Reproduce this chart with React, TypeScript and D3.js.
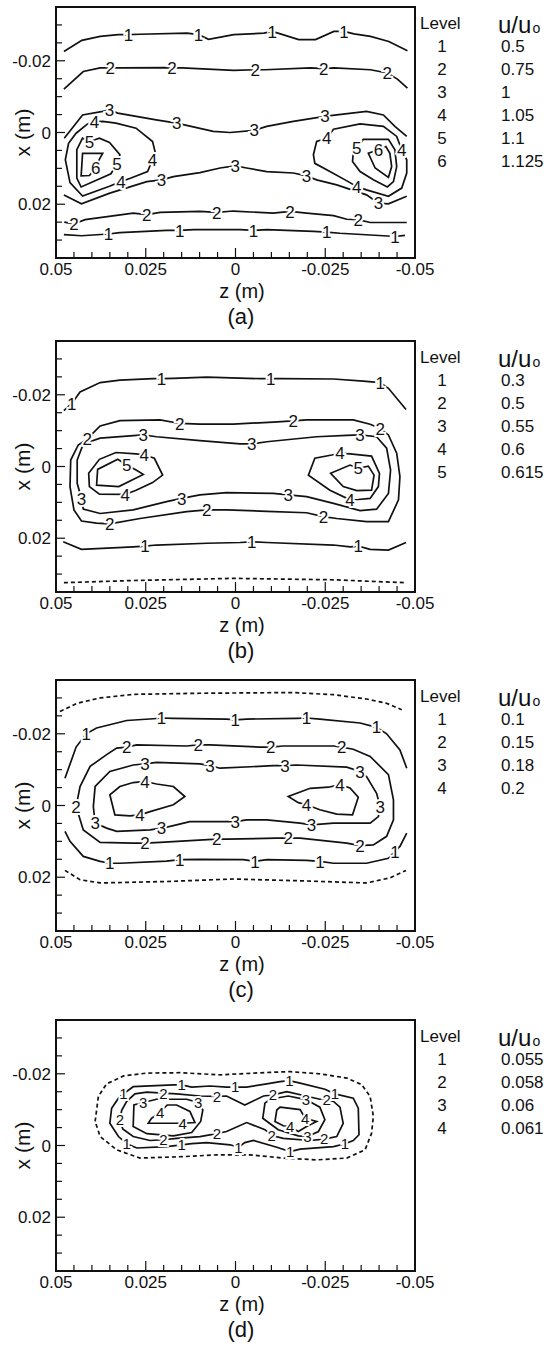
import * as d3 from "d3";

type Pt = [number, number]; // [z, x] in mm
type Contour = { level: number; dashed?: boolean; closed?: boolean; pts: Pt[] };
type Tag = [number, number, number]; // z, x (mm), level

// axis ticks (m)
const zMajor = [0.05, 0.025, 0, -0.025, -0.05];
const xMajor = [-0.02, 0, 0.02];
const zMinor = d3.range(-10, 11).map((i) => +(i * 0.005).toFixed(3));
const xMinor = d3.range(-6, 7).map((i) => +(i * 0.005).toFixed(3));

const panelTops = [7, 341, 680, 1020];
const panelNames = ["(a)", "(b)", "(c)", "(d)"];

// legend tables
const levelsA = ["1", "2", "3", "4", "5", "6"];
const valuesA = ["0.5", "0.75", "1", "1.05", "1.1", "1.125"];
const levelsB = ["1", "2", "3", "4", "5"];
const valuesB = ["0.3", "0.5", "0.55", "0.6", "0.615"];
const levelsC = ["1", "2", "3", "4"];
const valuesC = ["0.1", "0.15", "0.18", "0.2"];
const levelsD = ["1", "2", "3", "4"];
const valuesD = ["0.055", "0.058", "0.06", "0.061"];

// (a)
const contoursA: Contour[] = [
  { level: 1, pts: [[47.8, -22.6], [42.8, -25.7], [37.7, -26.8], [32.6, -27.3], [29.8, -27.3], [26.6, -27.4], [13.5, -27.7], [10.3, -27.3], [7.5, -26.0], [0.5, -27.3], [-7.9, -27.7], [-10.2, -28.2], [-12.5, -27.5], [-17.6, -25.9], [-22.3, -25.9], [-27.4, -28.2], [-30.2, -28.2], [-33.0, -27.5], [-37.6, -26.8], [-42.7, -25.4], [-47.9, -22.8]] },
  { level: 2, pts: [[47.8, -12.1], [42.4, -17.0], [37.7, -18.0], [34.9, -18.0], [32.1, -18.0], [20.0, -18.1], [17.7, -18.0], [14.9, -18.0], [0.5, -17.3], [-5.5, -17.5], [-8.3, -17.5], [-20.9, -18.0], [-24.6, -17.8], [-27.4, -18.0], [-37.6, -17.5], [-42.3, -16.6], [-45.1, -14.9], [-47.9, -12.4]] },
  { level: 3, pts: [[47.7, 1.6], [42.6, -4.9], [37.0, -5.9], [35.1, -6.3], [32.8, -5.4], [22.1, -3.5], [16.4, -2.6], [6.2, -0.3], [1.5, 0], [-5.2, -0.6], [-8.7, -1.7], [-16.1, -3.1], [-24.9, -4.5], [-28.2, -4.9], [-36.5, -5.9], [-41.2, -4.9], [-44.4, -1.7], [-47.7, 1.1]] },
  { level: 3, pts: [[47.8, 17.4], [42.9, 19.9], [35.0, 16.9], [24.7, 13.7], [20.6, 13.2], [17.3, 12.3], [9.9, 11.2], [4.3, 9.9], [0.1, 9.3], [-3.1, 9.9], [-8.7, 10.9], [-16.1, 11.3], [-19.8, 12.1], [-22.6, 13.2], [-28.2, 14.6], [-36.5, 17.4], [-39.8, 19.7], [-42.6, 19.9], [-47.7, 17.8]] },
  { level: 2, pts: [[47.7, 25.0], [45.0, 25.5], [41.9, 24.3], [28.5, 22.5], [24.7, 22.9], [21.0, 22.3], [9.9, 22.0], [5.2, 22.3], [0.6, 21.9], [-10.5, 22.5], [-15.2, 22.0], [-19.8, 22.5], [-27.3, 23.2], [-31.0, 24.2], [-34.2, 24.3], [-37.5, 25.1], [-47.7, 25.1]] },
  { level: 1, pts: [[47.8, 28.5], [42.9, 28.8], [35.4, 28.3], [32.2, 27.9], [19.2, 27.3], [15.5, 27.3], [11.7, 27.1], [-1.3, 27.1], [-5.0, 27.3], [-8.7, 27.1], [-21.7, 27.6], [-25.4, 27.8], [-29.1, 28.1], [-41.2, 28.8], [-44.4, 29.0], [-47.2, 28.7]] },
  { level: 4, closed: true, pts: [[39.3, -3.0], [37.0, -3.1], [33.3, -2.6], [27.7, -1.2], [23.1, 2.5], [22.3, 5.8], [23.1, 7.6], [24.5, 10.9], [29.1, 12.7], [31.9, 13.7], [35.1, 15.0], [42.6, 17.7], [46.1, 14.0], [47.4, 7.6], [46.5, 3.0], [44.4, 0.2], [41.2, -2.4]] },
  { level: 5, closed: true, pts: [[40.7, 2.5], [37.9, 1.6], [35.1, 2.8], [32.2, 6.2], [33.0, 8.7], [34.7, 11.5], [43.0, 15.2], [44.2, 12.7], [44.2, 4.8], [42.6, 1.6]] },
  { level: 6, closed: true, pts: [[38.9, 9.9], [40.7, 12.0], [43.0, 12.1], [42.8, 9.0], [42.6, 5.8], [37.0, 5.8], [37.9, 7.4]] },
  { level: 4, closed: true, pts: [[-25.4, 1.6], [-27.3, -0.9], [-34.7, -2.4], [-41.2, -1.7], [-44.9, 1.1], [-46.3, 4.8], [-47.7, 7.6], [-47.7, 11.3], [-46.3, 15.5], [-42.6, 17.8], [-36.5, 16.0], [-33.8, 15.1], [-31.4, 13.7], [-26.3, 10.9], [-22.1, 8.6], [-21.7, 6.2], [-22.6, 2.5]] },
  { level: 5, closed: true, pts: [[-33.8, 4.4], [-35.6, 1.9], [-42.6, 1.9], [-44.4, 4.8], [-44.9, 9.5], [-44.0, 13.7], [-42.3, 15.2], [-38.4, 13.2], [-34.7, 10.9], [-32.6, 8.1], [-32.8, 5.8]] },
  { level: 6, closed: true, pts: [[-39.8, 4.8], [-41.9, 3.9], [-43.0, 5.8], [-43.5, 9.5], [-42.6, 12.5], [-38.9, 9.9], [-37.0, 5.8]] },
];
const tagsA: Tag[] = [
  [29.8, -27.3, 1], [10.3, -27.3, 1], [-10.2, -28.2, 1], [-30.2, -28.2, 1],
  [34.9, -18.0, 2], [17.7, -18.0, 2], [-5.5, -17.5, 2], [-24.6, -17.8, 2], [-42.3, -16.6, 2],
  [35.1, -6.3, 3], [16.4, -2.6, 3], [-5.2, -0.6, 3], [-24.9, -4.5, 3],
  [20.6, 13.2, 3], [0.1, 9.3, 3], [-19.8, 12.1, 3], [-39.8, 19.7, 3],
  [45.0, 25.5, 2], [24.7, 22.9, 2], [5.2, 22.3, 2], [-15.2, 22.0, 2], [-34.2, 24.3, 2],
  [35.4, 28.3, 1], [15.5, 27.3, 1], [-5.0, 27.3, 1], [-25.4, 27.8, 1], [-44.4, 29.0, 1],
  [39.3, -3.0, 4], [23.1, 7.6, 4], [31.9, 13.7, 4], [40.7, 2.5, 5], [33.0, 8.7, 5], [38.9, 9.9, 6],
  [-25.4, 1.6, 4], [-46.3, 4.8, 4], [-33.8, 15.1, 4], [-33.8, 4.4, 5], [-39.8, 4.8, 6],
];

// (b)
const contoursB: Contour[] = [
  { level: 1, pts: [[47.8, -15.6], [45.6, -17.6], [43.3, -20.8], [37.7, -23.4], [32.2, -24.1], [22.9, -24.5], [20.6, -24.5], [17.3, -24.6], [8.0, -24.9], [-6.8, -24.5], [-9.8, -24.5], [-12.4, -24.5], [-27.3, -24.4], [-35.6, -23.8], [-40.3, -23.4], [-42.6, -21.8], [-47.5, -15.9]] },
  { level: 2, closed: true, pts: [[41.3, -7.7], [37.7, -11.3], [32.2, -12.8], [21.0, -13.0], [15.5, -12.0], [9.9, -11.8], [0.6, -11.8], [-10.5, -12.4], [-16.1, -12.7], [-19.8, -13.0], [-32.8, -13.0], [-37.5, -11.8], [-40.3, -10.6], [-42.6, -8.8], [-44.9, -3.7], [-45.8, 2.8], [-45.4, 9.3], [-42.6, 15.4], [-36.5, 15.4], [-28.2, 14.5], [-24.5, 14.0], [-19.8, 12.9], [-8.7, 12.5], [2.5, 12.1], [8.0, 12.1], [13.6, 12.6], [26.6, 14.5], [35.0, 16.0], [38.7, 15.8], [42.9, 15.2], [45.0, 12.1], [46.1, 5.6], [45.9, -1.8], [43.8, -6.0]] },
  { level: 3, closed: true, pts: [[37.7, -7.9], [25.7, -8.8], [22.0, -8.3], [9.9, -7.2], [-1.3, -6.3], [-4.5, -6.3], [-8.7, -6.9], [-22.6, -8.3], [-31.0, -8.7], [-34.7, -8.8], [-39.3, -8.3], [-42.1, -5.1], [-43.2, 1.0], [-42.6, 7.5], [-39.3, 11.9], [-34.7, 12.3], [-27.3, 10.3], [-19.8, 8.4], [-14.7, 7.9], [-10.5, 7.5], [2.5, 7.3], [9.9, 7.9], [15.0, 8.9], [19.2, 9.8], [28.5, 12.1], [37.7, 13.1], [42.4, 11.9], [42.9, 8.9], [44.1, 4.7], [44.1, -1.8], [42.4, -6.3]] },
  { level: 4, closed: true, pts: [[25.4, -3.2], [22.6, -2.3], [20.3, 2.4], [23.1, 4.5], [27.7, 6.6], [30.7, 7.8], [37.9, 7.7], [40.7, 5.6], [40.9, 1.9], [37.9, -2.0], [33.3, -3.9], [27.7, -3.5]] },
  { level: 5, closed: true, pts: [[30.3, -0.4], [32.8, -2.0], [38.4, 0.8], [38.7, 5.2], [32.5, 5.6], [25.7, 2.2], [27.7, 1.0]] },
  { level: 4, closed: true, pts: [[-29.1, -3.7], [-31.9, -3.5], [-37.9, -2.9], [-40.1, 1.9], [-39.8, 5.6], [-37.5, 8.9], [-34.2, 9.2], [-31.9, 9.3], [-26.3, 6.6], [-20.3, 2.4], [-22.1, -2.3], [-26.8, -3.2]] },
  { level: 5, closed: true, pts: [[-34.2, 0.5], [-37.0, -0.1], [-38.6, 2.4], [-37.9, 6.6], [-33.8, 6.7], [-30.0, 5.6], [-26.5, 1.9], [-31.9, -0.4]] },
  { level: 1, pts: [[48.0, 21.0], [42.9, 23.1], [28.5, 22.4], [25.2, 22.2], [22.0, 21.9], [8.0, 21.4], [-1.3, 21.2], [-4.5, 21.0], [-8.7, 21.2], [-27.3, 21.9], [-31.9, 22.4], [-34.2, 22.2], [-37.5, 23.1], [-42.6, 23.3], [-47.5, 21.2]] },
  { level: 0, dashed: true, pts: [[47.8, 32.4], [28.5, 31.8], [0.6, 31.2], [-27.3, 31.6], [-47.2, 32.4]] },
];
const tagsB: Tag[] = [
  [45.6, -17.6, 1], [20.6, -24.5, 1], [-9.8, -24.5, 1], [-40.3, -23.4, 1],
  [25.2, 22.2, 1], [-4.5, 21.0, 1], [-34.2, 22.2, 1],
  [41.3, -7.7, 2], [15.5, -12.0, 2], [-16.1, -12.7, 2], [-40.3, -10.6, 2], [-24.5, 14.0, 2], [8.0, 12.1, 2], [35.0, 16.0, 2],
  [25.7, -8.8, 3], [-4.5, -6.3, 3], [-34.7, -8.8, 3], [-14.7, 7.9, 3], [15.0, 8.9, 3], [42.9, 8.9, 3],
  [25.4, -3.2, 4], [30.7, 7.8, 4], [-29.1, -3.7, 4], [-31.9, 9.3, 4],
  [30.3, -0.4, 5], [-34.2, 0.5, 5],
];

// (c)
const contoursC: Contour[] = [
  { level: 0, dashed: true, pts: [[48.9, -26.2], [44.2, -28.5], [37.7, -30.0], [28.5, -31.0], [9.9, -31.3], [-16.1, -31.5], [-27.3, -30.9], [-36.5, -29.7], [-42.1, -28.5], [-46.3, -26.7]] },
  { level: 0, dashed: true, pts: [[47.5, 18.1], [43.3, 20.7], [37.7, 21.6], [19.2, 21.2], [0.6, 20.5], [-18.0, 21.0], [-36.5, 21.6], [-43.0, 20.2], [-47.5, 18.1]] },
  { level: 1, pts: [[47.5, -7.6], [44.4, -16.3], [41.6, -20.0], [38.7, -21.6], [30.3, -23.7], [22.9, -24.2], [20.6, -24.4], [17.3, -24.3], [2.5, -24.1], [0.1, -23.9], [-3.1, -24.1], [-17.0, -24.3], [-19.8, -24.4], [-23.5, -24.1], [-34.7, -23.0], [-39.3, -21.8], [-42.1, -20.0], [-45.8, -15.5], [-47.7, -10.4]] },
  { level: 1, pts: [[47.5, 7.2], [46.1, 10.0], [42.4, 14.2], [37.7, 15.6], [35.0, 16.1], [32.2, 16.1], [19.2, 15.5], [15.5, 15.1], [9.9, 15.0], [-2.2, 15.1], [-5.4, 15.6], [-8.7, 15.1], [-19.8, 15.3], [-23.5, 15.6], [-27.3, 16.1], [-36.5, 16.1], [-42.6, 14.7], [-44.4, 12.8], [-45.8, 11.4], [-47.7, 7.7]] },
  { level: 2, closed: true, pts: [[44.4, 0.3], [43.3, -5.3], [40.5, -10.9], [35.9, -14.2], [33.1, -16.0], [30.3, -16.3], [27.5, -16.9], [13.6, -16.6], [10.4, -16.9], [7.1, -16.9], [-6.8, -16.3], [-9.8, -16.3], [-13.3, -16.6], [-27.3, -16.6], [-29.6, -16.3], [-32.8, -15.7], [-37.5, -13.7], [-42.6, -8.6], [-44.0, -1.6], [-44.0, 4.0], [-42.1, 8.6], [-38.4, 11.0], [-34.7, 11.2], [-31.0, 10.5], [-18.0, 9.1], [-14.7, 9.1], [-11.5, 9.1], [2.5, 9.4], [5.2, 9.4], [9.0, 9.6], [21.0, 10.3], [25.2, 10.5], [28.5, 10.5], [37.7, 10.3], [42.4, 6.8]] },
  { level: 3, closed: true, pts: [[39.6, 0.3], [39.1, -5.3], [35.0, -9.5], [28.5, -11.3], [25.2, -11.6], [22.0, -12.0], [9.9, -11.6], [7.1, -11.1], [4.3, -10.4], [-10.5, -11.1], [-13.8, -11.1], [-17.0, -11.3], [-31.0, -10.7], [-34.7, -9.5], [-36.5, -8.1], [-39.3, -3.4], [-40.3, 0.3], [-39.8, 3.1], [-37.5, 4.9], [-27.3, 4.9], [-21.2, 5.4], [-18.0, 4.9], [-8.7, 4.0], [-3.1, 4.0], [0.1, 4.5], [3.4, 4.5], [12.7, 4.5], [18.2, 5.8], [20.6, 6.3], [23.8, 6.8], [33.1, 7.2], [35.9, 6.3], [39.1, 4.9]] },
  { level: 4, closed: true, pts: [[25.2, -6.7], [22.0, -6.0], [17.3, -5.3], [14.1, -2.5], [17.3, -0.2], [23.8, 1.7], [26.6, 2.6], [29.4, 2.9], [33.6, 2.6], [35.0, -3.0], [32.2, -5.3], [28.5, -6.4]] },
  { level: 4, closed: true, pts: [[-29.1, -5.8], [-25.9, -5.1], [-20.8, -4.8], [-14.7, -2.5], [-17.5, -0.8], [-19.8, -0.2], [-23.5, 1.2], [-28.2, 2.4], [-32.6, 2.6], [-34.2, -2.3], [-31.9, -4.9]] },
];
const tagsC: Tag[] = [
  [41.6, -20.0, 1], [20.6, -24.4, 1], [0.1, -23.9, 1], [-19.8, -24.4, 1], [-39.3, -21.8, 1],
  [35.0, 16.1, 1], [15.5, 15.1, 1], [-5.4, 15.6, 1], [-23.5, 15.6, 1], [-44.4, 12.8, 1],
  [44.4, 0.3, 2], [30.3, -16.3, 2], [10.4, -16.9, 2], [-9.8, -16.3, 2], [-29.6, -16.3, 2], [-34.7, 11.2, 2], [-14.7, 9.1, 2], [5.2, 9.4, 2], [25.2, 10.5, 2],
  [25.2, -11.6, 3], [7.1, -11.1, 3], [-13.8, -11.1, 3], [-34.7, -9.5, 3], [-40.3, 0.3, 3], [-21.2, 5.4, 3], [0.1, 4.5, 3], [20.6, 6.3, 3], [39.1, 4.9, 3],
  [25.2, -6.7, 4], [26.6, 2.6, 4], [-29.1, -5.8, 4], [-19.8, -0.2, 4],
];

// (d)
const contoursD: Contour[] = [
  { level: 0, dashed: true, closed: true, pts: [[39.1, -6.7], [38.2, -13.7], [35.9, -17.2], [31.2, -19.4], [24.7, -20.2], [15.5, -20.3], [4.3, -19.7], [-1.3, -20.0], [-9.6, -20.4], [-15.2, -20.6], [-23.5, -20.0], [-31.0, -18.8], [-35.1, -17.0], [-37.5, -13.7], [-38.4, -8.1], [-37.9, -3.4], [-36.1, 1.2], [-31.0, 3.5], [-22.6, 4.0], [-13.3, 3.5], [-4.0, 2.6], [5.2, 2.6], [14.5, 3.1], [26.6, 3.5], [33.1, 1.2], [37.7, -2.5]] },
  { level: 1, closed: true, pts: [[31.2, -14.4], [28.5, -16.4], [17.3, -16.9], [15.0, -16.9], [12.2, -16.3], [7.1, -16.6], [2.5, -16.3], [0.1, -16.3], [-3.1, -16.3], [-8.7, -17.2], [-12.4, -17.8], [-15.0, -18.1], [-18.0, -17.4], [-24.9, -15.7], [-27.7, -14.4], [-32.8, -13.2], [-34.2, -10.4], [-34.4, -3.0], [-32.8, -1.4], [-30.5, -0.5], [-27.3, 0.3], [-18.0, 1.0], [-15.2, 1.7], [-11.5, 0.5], [-5.0, -1.4], [-2.6, -0.8], [-0.8, 0.5], [1.5, -0.2], [8.0, -0.8], [12.2, -0.5], [15.0, -0.2], [19.2, 0.3], [27.5, 0.7], [30.3, -0.5], [32.6, -2.5], [35.0, -6.2], [34.5, -10.4], [32.6, -13.2]] },
  { level: 2, closed: true, pts: [[20.1, -14.6], [24.7, -14.9], [28.0, -14.4], [30.3, -12.3], [31.7, -9.8], [32.2, -7.2], [31.4, -4.6], [28.5, -2.5], [23.8, -1.4], [20.1, -1.6], [16.4, -2.0], [9.9, -2.5], [5.2, -3.3], [2.5, -3.9], [-3.1, -6.4], [-8.2, -4.4], [-10.1, -2.8], [-13.3, -2.0], [-20.8, -1.4], [-24.7, -1.8], [-28.2, -2.5], [-30.0, -6.2], [-29.1, -10.7], [-27.3, -12.3], [-25.4, -12.9], [-23.5, -12.9], [-14.3, -15.0], [-10.4, -14.1], [-7.8, -13.8], [-2.6, -11.3], [2.5, -13.8], [5.2, -13.7], [9.9, -13.8], [16.4, -14.4]] },
  { level: 3, closed: true, pts: [[25.7, -12.0], [28.3, -11.3], [28.5, -5.3], [24.7, -3.3], [17.3, -2.7], [12.2, -3.6], [9.7, -6.7], [9.1, -9.9], [10.4, -12.0], [13.6, -12.9], [22.0, -12.9]] },
  { level: 4, closed: true, pts: [[21.0, -9.3], [23.4, -7.6], [24.3, -6.2], [17.3, -6.2], [14.7, -6.2], [11.3, -6.4], [12.7, -9.5], [16.4, -11.3], [19.0, -11.3]] },
  { level: 3, closed: true, pts: [[-8.2, -11.8], [-7.6, -7.6], [-11.9, -4.4], [-17.5, -2.7], [-20.0, -2.5], [-23.1, -3.9], [-24.9, -7.2], [-23.5, -10.7], [-19.6, -12.8], [-14.7, -13.8], [-9.6, -12.9]] },
  { level: 4, closed: true, pts: [[-12.4, -10.7], [-18.0, -10.0], [-19.4, -7.6], [-22.6, -6.7], [-19.8, -5.3], [-17.5, -3.9], [-15.2, -5.3], [-13.3, -5.5], [-11.0, -6.7], [-11.5, -9.9]] },
];
const tagsD: Tag[] = [
  [31.2, -14.4, 1], [15.0, -16.9, 1], [0.1, -16.3, 1], [-15.0, -18.1, 1], [-27.7, -14.4, 1], [-30.5, -0.5, 1], [-15.2, 1.7, 1], [-0.8, 0.5, 1], [15.0, -0.2, 1], [30.3, -0.5, 1],
  [20.1, -14.6, 2], [32.2, -7.2, 2], [20.1, -1.6, 2], [5.2, -3.3, 2], [-10.1, -2.8, 2], [-24.7, -1.8, 2], [-25.4, -12.9, 2], [-10.4, -14.1, 2], [5.2, -13.7, 2],
  [25.7, -12.0, 3], [10.4, -12.0, 3], [-20.0, -2.5, 3], [-19.6, -12.8, 3],
  [21.0, -9.3, 4], [14.7, -6.2, 4], [-19.4, -7.6, 4], [-15.2, -5.3, 4],
];

const FONT = "'Liberation Sans', Arial, Helvetica, sans-serif";

function Panel({ top, name, contours, tags, levels, values, tagSize }) {
  const z = d3.scaleLinear().domain([0.05, -0.05]).range([56, 415]);
  const x = d3.scaleLinear().domain([-0.035, 0.035]).range([0, 251]);
  const px = (p: Pt) => z(p[0] / 1000);
  const py = (p: Pt) => x(p[1] / 1000);
  const openLine = d3.line<Pt>().x(px).y(py);
  const closedLine = d3.line<Pt>().x(px).y(py).curve(d3.curveLinearClosed);
  const [y0, y1] = x.range();
  const [x0, x1] = z.range();

  return (
    <g transform={`translate(0,${top})`}>
      {/* contour lines */}
      {contours.map((c, i) => (
        <path
          key={"c" + i}
          d={(c.closed ? closedLine : openLine)(c.pts) || ""}
          fill="none"
          stroke="#111"
          strokeWidth={1.7}
          strokeDasharray={c.dashed ? "4,3" : undefined}
        />
      ))}
      {/* label halos cut the lines */}
      {tags.map((t, i) => (
        <text key={"h" + i} x={z(t[0] / 1000)} y={x(t[1] / 1000)} dy="0.36em" textAnchor="middle"
          fontSize={tagSize} fill="white" stroke="white" strokeWidth={4}>{t[2]}</text>
      ))}
      {tags.map((t, i) => (
        <text key={"t" + i} x={z(t[0] / 1000)} y={x(t[1] / 1000)} dy="0.36em" textAnchor="middle"
          fontSize={tagSize} fill="#111">{t[2]}</text>
      ))}

      {/* frame */}
      <rect x={x0} y={y0} width={x1 - x0} height={y1 - y0} fill="none" stroke="#111" strokeWidth={2} />

      {/* bottom ticks */}
      {zMinor.map((v) => {
        const major = zMajor.some((m) => Math.abs(m - v) < 1e-9);
        return <line key={"zt" + v} x1={z(v)} x2={z(v)} y1={y1} y2={y1 - (major ? 10 : 6)} stroke="#111" strokeWidth={1.2} />;
      })}
      {/* left ticks */}
      {xMinor.map((v) => {
        const major = xMajor.some((m) => Math.abs(m - v) < 1e-9);
        return <line key={"xt" + v} x1={x0} x2={x0 + (major ? 9 : 6)} y1={x(v)} y2={x(v)} stroke="#111" strokeWidth={1.2} />;
      })}

      {zMajor.map((v) => (
        <text key={"zl" + v} x={z(v)} y={268} textAnchor="middle" fontSize={17} fill="#111">{String(v)}</text>
      ))}
      {xMajor.map((v) => (
        <text key={"xl" + v} x={51} y={x(v)} dy="0.36em" textAnchor="end" fontSize={17} fill="#111">{String(v)}</text>
      ))}

      <text x={242} y={291} textAnchor="middle" fontSize={20} fill="#111">z (m)</text>
      <text transform={`translate(30,${(y0 + y1) / 2}) rotate(-90)`} textAnchor="middle" fontSize={21} fill="#111">x (m)</text>
      <text x={241} y={317} textAnchor="middle" fontSize={22} fill="#111">{name}</text>

      {/* legend */}
      <text x={420} y={22} fontSize={17} fill="#111">Level</text>
      <text x={498} y={26} fontSize={24} fill="#111">u/u<tspan fontSize={14} dx={1}>o</tspan></text>
      {levels.map((l, i) => (
        <text key={"lv" + i} x={442} y={45 + 23 * i} textAnchor="middle" fontSize={17} fill="#111">{l}</text>
      ))}
      {values.map((v, i) => (
        <text key={"vl" + i} x={501} y={45 + 23 * i} fontSize={17} fill="#111">{v}</text>
      ))}
    </g>
  );
}

export default function App() {
  const panels = [
    { contours: contoursA, tags: tagsA, levels: levelsA, values: valuesA, tagSize: 17 },
    { contours: contoursB, tags: tagsB, levels: levelsB, values: valuesB, tagSize: 17 },
    { contours: contoursC, tags: tagsC, levels: levelsC, values: valuesC, tagSize: 17 },
    { contours: contoursD, tags: tagsD, levels: levelsD, values: valuesD, tagSize: 15 },
  ];
  return (
    <svg width={551} height={1347} style={{ position: "absolute", left: 0, top: 0, background: "#fff" }} fontFamily={FONT}>
      {panels.map((p, i) => (
        <Panel key={i} top={panelTops[i]} name={panelNames[i]} {...p} />
      ))}
    </svg>
  );
}
